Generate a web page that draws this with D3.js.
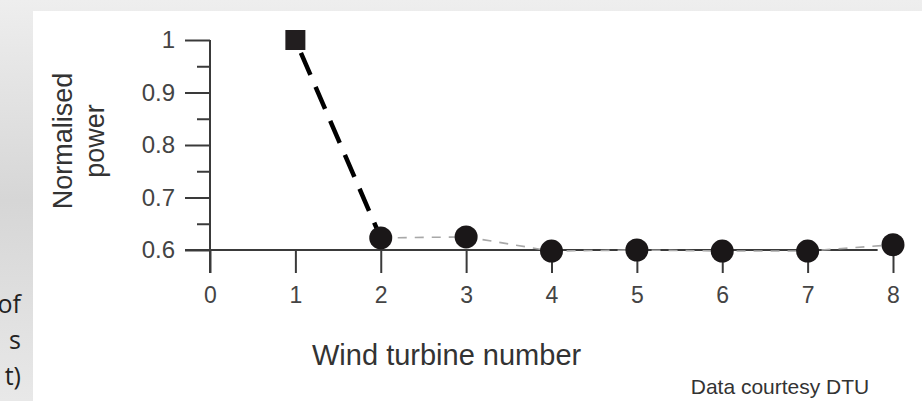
<!DOCTYPE html>
<html>
<head>
<meta charset="utf-8">
<script src="https://cdn.jsdelivr.net/npm/d3@7"></script>
<style>
  body { margin: 0; background: #fff; }
  svg { display: block; font-family: "Liberation Sans", Arial, sans-serif; }
</style>
</head>
<body>
<div id="chart"></div>
<script>
// turbine number along the row, normalised power
const turbines = [1, 2, 3, 4, 5, 6, 7, 8];
const power = [1.0, 0.623, 0.625, 0.598, 0.6, 0.598, 0.598, 0.61];
const xTicks = [0, 1, 2, 3, 4, 5, 6, 7, 8];
const yTicks = [0.6, 0.7, 0.8, 0.9, 1];
const yMinor = [0.65, 0.75, 0.85, 0.95];
const slideText = ['of', 's', 't)'];

const W = 922, H = 401;

const svg = d3.select('#chart')
  .append('svg')
  .attr('width', W)
  .attr('height', H);

// slide background peeking out left and top
const grad = svg.append('defs').append('linearGradient')
  .attr('id', 'bg').attr('x1', 0).attr('y1', 0).attr('x2', 0).attr('y2', 1);
grad.append('stop').attr('offset', '0%').attr('stop-color', '#eeeeee');
grad.append('stop').attr('offset', '50%').attr('stop-color', '#d6d6d6');
grad.append('stop').attr('offset', '100%').attr('stop-color', '#e8e8e8');
svg.append('rect').attr('width', W).attr('height', H).attr('fill', 'url(#bg)');
svg.append('rect').attr('x', 33).attr('y', 11).attr('width', W - 33).attr('height', H - 11).attr('fill', '#fff');

// the slide's own text, cut by the left edge
svg.selectAll('.slide-text')
  .data(slideText)
  .enter()
  .append('text')
  .attr('class', 'slide-text')
  .attr('x', 21)
  .attr('y', (d, i) => 313 + i * 36)
  .attr('text-anchor', 'end')
  .attr('font-family', '"Open Sans", sans-serif')
  .attr('font-size', 25)
  .attr('fill', '#222')
  .text(d => d);

const x = d3.scaleLinear().domain([0, 8]).range([210, 893]);
const y = d3.scaleLinear().domain([0.6, 1]).range([250, 40]);

const axisColor = '#3a3a3a';
const labelColor = '#444';

// y axis: major ticks with labels, minor ticks without
const yAxis = d3.axisLeft(y)
  .tickValues(yTicks)
  .tickSize(25)
  .tickPadding(10)
  .tickFormat(d => d === 1 ? '1' : d3.format('.1f')(d));

svg.append('g')
  .attr('transform', 'translate(' + x(0) + ',0)')
  .call(yAxis)
  .call(g => g.select('.domain').remove())
  .call(g => g.selectAll('.tick line').attr('stroke', axisColor).attr('stroke-width', 2))
  .call(g => g.selectAll('.tick text')
    .attr('font-size', 24)
    .attr('fill', labelColor)
    .attr('font-family', '"Liberation Sans", Arial, sans-serif'));

svg.append('g')
  .attr('transform', 'translate(' + x(0) + ',0)')
  .call(d3.axisLeft(y).tickValues(yMinor).tickSize(13).tickFormat(''))
  .call(g => g.select('.domain').remove())
  .call(g => g.selectAll('.tick line').attr('stroke', axisColor).attr('stroke-width', 2));

// vertical axis line runs a little below the x axis
svg.append('line')
  .attr('x1', x(0)).attr('x2', x(0))
  .attr('y1', y(1)).attr('y2', y(0.6) + 23)
  .attr('stroke', axisColor).attr('stroke-width', 2);

// x axis
const xAxis = d3.axisBottom(x)
  .tickValues(xTicks)
  .tickSize(23)
  .tickPadding(14)
  .tickFormat(d3.format('d'));

svg.append('g')
  .attr('transform', 'translate(0,' + y(0.6) + ')')
  .call(xAxis)
  .call(g => g.select('.domain').remove())
  .call(g => g.selectAll('.tick line').attr('stroke', axisColor).attr('stroke-width', 2))
  .call(g => g.selectAll('.tick text')
    .attr('font-size', 23)
    .attr('fill', labelColor)
    .attr('font-family', '"Liberation Sans", Arial, sans-serif'));

svg.append('line')
  .attr('x1', x(0) - 25).attr('x2', x(7.82))
  .attr('y1', y(0.6)).attr('y2', y(0.6))
  .attr('stroke', axisColor).attr('stroke-width', 2);

const pts = turbines.map((t, i) => ({ t: t, p: power[i] }));

const line = d3.line()
  .x(d => x(d.t))
  .y(d => y(d.p));

// thin grey dashes for the downstream turbines
svg.append('path')
  .datum(pts.slice(1))
  .attr('fill', 'none')
  .attr('stroke', '#a8a8a8')
  .attr('stroke-width', 1.6)
  .attr('stroke-dasharray', '9,8')
  .attr('d', line);

// heavy dashes from the first to the second turbine
svg.append('path')
  .datum(pts.slice(0, 2))
  .attr('fill', 'none')
  .attr('stroke', '#000')
  .attr('stroke-width', 4.5)
  .attr('stroke-dasharray', '24,13')
  .attr('stroke-dashoffset', -14)
  .attr('d', line);

svg.selectAll('.sq')
  .data(pts.slice(0, 1))
  .enter()
  .append('rect')
  .attr('class', 'sq')
  .attr('x', d => x(d.t) - 10)
  .attr('y', d => y(d.p) - 10)
  .attr('width', 20)
  .attr('height', 20)
  .attr('fill', '#221e1f');

svg.selectAll('.dot')
  .data(pts.slice(1))
  .enter()
  .append('circle')
  .attr('class', 'dot')
  .attr('cx', d => x(d.t))
  .attr('cy', d => y(d.p))
  .attr('r', 11.5)
  .attr('fill', '#1a1718');

// axis titles
const yTitle = svg.append('text')
  .attr('transform', 'translate(72,141) rotate(-90)')
  .attr('text-anchor', 'middle')
  .attr('font-size', 27)
  .attr('fill', '#333');
yTitle.append('tspan').attr('x', 0).attr('dy', 0).text('Normalised');
yTitle.append('tspan').attr('x', 0).attr('dy', 32).text('power');

svg.append('text')
  .attr('x', 312)
  .attr('y', 365)
  .attr('font-size', 29)
  .attr('fill', '#333')
  .text('Wind turbine number');

svg.append('text')
  .attr('x', 780)
  .attr('y', 394)
  .attr('text-anchor', 'middle')
  .attr('font-size', 21)
  .attr('fill', '#333')
  .text('Data courtesy DTU');
</script>
</body>
</html>
